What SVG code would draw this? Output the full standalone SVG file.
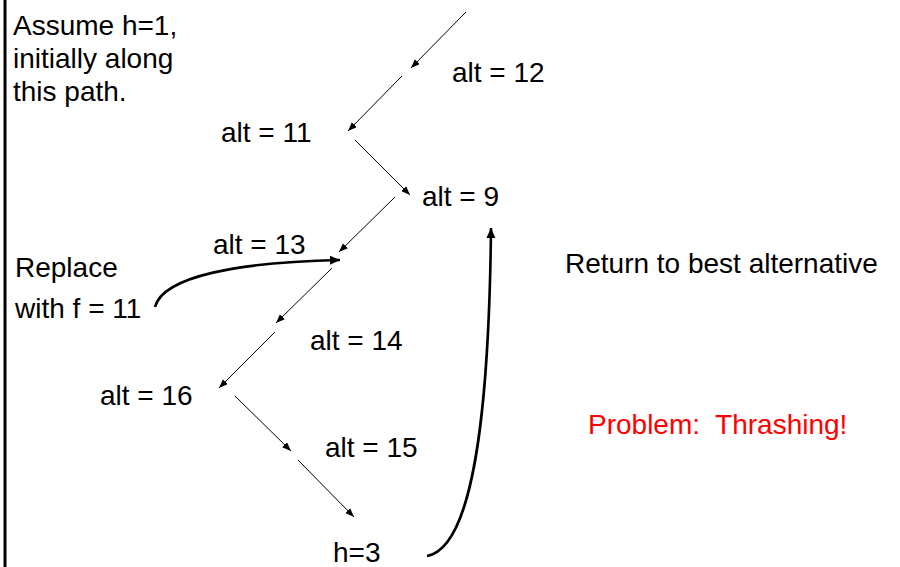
<svg xmlns="http://www.w3.org/2000/svg" width="900" height="567" viewBox="0 0 900 567">
<defs>
<marker id="ah" markerUnits="userSpaceOnUse" markerWidth="10" markerHeight="8" refX="9" refY="3.5" orient="auto">
<path d="M0,0 L9,3.5 L0,7 z" fill="#000"/>
</marker>
<marker id="ahb" markerUnits="userSpaceOnUse" markerWidth="12" markerHeight="10" refX="10" refY="4.5" orient="auto">
<path d="M0,0 L10,4.5 L0,9 z" fill="#000"/>
</marker>
<style>
text{font-family:"Liberation Sans",Arial,sans-serif;font-size:28px;fill:#000}
.red{fill:#ff0000}
.thin{stroke:#000;stroke-width:1;fill:none;marker-end:url(#ah)}
.thick{stroke:#000;stroke-width:2.6;fill:none;marker-end:url(#ahb)}
</style>
</defs>
<rect width="900" height="567" fill="#fff"/>
<line x1="5" y1="0" x2="5" y2="567" stroke="#000" stroke-width="3"/>
<g id="note">
<text x="13" y="35">Assume h=1,</text>
<text x="13" y="68">initially along</text>
<text x="13" y="101">this path.</text>
</g>
<g id="replace">
<text x="15" y="277">Replace</text>
<text x="15" y="318">with f = 11</text>
</g>
<g id="alt12"><text x="452" y="82">alt = 12</text></g>
<g id="alt11"><text x="221" y="142">alt = 11</text></g>
<g id="alt9"><text x="422" y="206">alt = 9</text></g>
<g id="alt13"><text x="213" y="254">alt = 13</text></g>
<g id="alt14"><text x="310" y="350">alt = 14</text></g>
<g id="alt16"><text x="100" y="405">alt = 16</text></g>
<g id="alt15"><text x="325" y="457">alt = 15</text></g>
<g id="h3"><text x="333" y="562">h=3</text></g>
<g id="return"><text x="565" y="273">Return to best alternative</text></g>
<g id="problem"><text class="red" x="588" y="434" xml:space="preserve">Problem:  Thrashing!</text></g>
<g id="connectors">
<line class="thin" x1="466" y1="12" x2="411" y2="68"/>
<line class="thin" x1="402" y1="76" x2="348" y2="131"/>
<line class="thin" x1="355" y1="140" x2="410" y2="195"/>
<line class="thin" x1="395" y1="197" x2="339" y2="252"/>
<line class="thin" x1="332" y1="268" x2="276" y2="323"/>
<line class="thin" x1="275" y1="332" x2="219" y2="388"/>
<line class="thin" x1="235" y1="396" x2="291" y2="451"/>
<line class="thin" x1="298" y1="460" x2="354" y2="517"/>
<path class="thick" d="M155,307 C163,276 240,262 340,260"/>
<path class="thick" d="M427,556 C472,548 489,420 491,228"/>
</g>
</svg>
